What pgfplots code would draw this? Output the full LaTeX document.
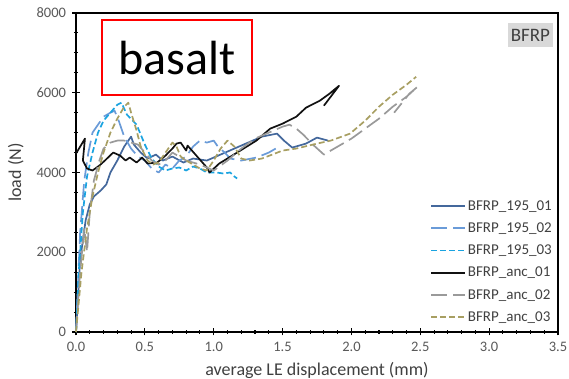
\documentclass[border=0pt]{standalone}
\usepackage{pgfplots}
\pgfplotsset{compat=1.18}
\usepackage{fontspec}
\setmainfont{Carlito}
\definecolor{cA}{HTML}{44689C}
\definecolor{cB}{HTML}{6A9BD8}
\definecolor{cC}{HTML}{1AA3E0}
\definecolor{cD}{HTML}{111111}
\definecolor{cE}{HTML}{9A9A9A}
\definecolor{cF}{HTML}{A89F62}
\definecolor{tickgray}{HTML}{595959}
\definecolor{labgray}{HTML}{404040}
\begin{document}
\begin{tikzpicture}
\begin{axis}[
  scale only axis, width=482pt, height=319pt,
  xmin=0, xmax=3.5, ymin=0, ymax=8000,
  xtick={0,0.5,...,3.5}, ytick={0,2000,...,8000},
  minor x tick num=4, minor y tick num=3,
  tick pos=left, tick align=center,
  major tick length=7pt, minor tick length=4pt,
  axis line style={line width=1.3pt},
  every tick/.style={black, line width=1.1pt},
  tick label style={font=\fontsize{14.5}{16}\selectfont, text=tickgray},
  /pgf/number format/assume math mode=true,
  xticklabel style={/pgf/number format/fixed, /pgf/number format/fixed zerofill, /pgf/number format/precision=1, yshift=-3pt},
  yticklabel style={/pgf/number format/1000 sep={}, xshift=-3pt},
  xlabel={average LE displacement (mm)},
  ylabel={load (N)},
  label style={font=\fontsize{18}{20}\selectfont, text=labgray},
  xlabel style={yshift=-4pt},
  ylabel style={yshift=6pt},
  legend style={at={(1,0)}, anchor=south east, xshift=-3pt, yshift=6pt, draw=none, fill=none,
    font=\fontsize{15}{17}\selectfont, text=labgray, row sep=7pt, inner sep=1pt},
  legend cell align=left,
  legend image code/.code={\draw[line width=1.7pt,#1] (0pt,0pt) -- (34pt,0pt);},
  every axis plot/.append style={line width=1.7pt, line join=round},
  clip=false
]
\addplot[cA] coordinates {(0,0)(0.03,1800)(0.07,2800)(0.1,3200)(0.13,3400)(0.18,3550)(0.22,3700)(0.25,4000)(0.3,4300)(0.35,4650)(0.4,4900)(0.42,4700)(0.47,4500)(0.52,4350)(0.58,4450)(0.63,4300)(0.7,4400)(0.78,4250)(0.85,4350)(0.95,4300)(1.05,4450)(1.15,4600)(1.25,4750)(1.35,4900)(1.46,4975)(1.51,4800)(1.57,4625)(1.67,4725)(1.75,4875)(1.83,4800)};
\addlegendentry{BFRP\_195\_01}
\addplot[cB, dash pattern=on 16pt off 6pt] coordinates {(0,0)(0.03,2500)(0.06,3800)(0.09,4500)(0.12,5000)(0.16,5200)(0.2,5400)(0.25,5500)(0.28,5550)(0.31,5300)(0.35,4900)(0.4,4600)(0.45,4400)(0.5,4300)(0.55,4100)(0.6,4000)(0.65,4200)(0.7,4100)(0.75,4300)(0.8,4400)(0.85,4650)(0.9,4800)(0.95,4750)(1.0,4800)(1.03,4650)(1.08,4500)(1.12,4350)(1.2,4300)(1.31,4375)(1.4,4500)(1.45,4600)};
\addlegendentry{BFRP\_195\_02}
\addplot[cC, dash pattern=on 6pt off 3pt] coordinates {(0,0)(0.02,1500)(0.05,3000)(0.08,3900)(0.12,4500)(0.16,5000)(0.2,5300)(0.25,5500)(0.3,5700)(0.33,5750)(0.37,5450)(0.44,5200)(0.5,4700)(0.55,4350)(0.6,4150)(0.65,4050)(0.7,4100)(0.75,4125)(0.8,4050)(0.85,4150)(0.9,4100)(0.95,4000)(1.02,4000)(1.07,3975)(1.12,4000)(1.15,3900)(1.17,3850)};
\addlegendentry{BFRP\_195\_03}
\addplot[cD] coordinates {(0,4475)(0.065,4850)(0.05,4300)(0.08,4100)(0.12,4050)(0.17,4175)(0.21,4300)(0.27,4500)(0.32,4425)(0.36,4300)(0.39,4375)(0.44,4250)(0.48,4375)(0.52,4225)(0.59,4250)(0.65,4425)(0.70,4600)(0.73,4725)(0.76,4750)(0.80,4550)(0.81,4675)(0.88,4400)(0.95,4125)(0.97,4000)(1.04,4225)(1.17,4500)(1.31,4800)(1.41,5100)(1.50,5225)(1.60,5400)(1.67,5625)(1.77,5800)(1.84,5975)(1.91,6175)(1.80,5675)};
\addlegendentry{BFRP\_anc\_01}
\addplot[cE, dash pattern=on 16pt off 6pt] coordinates {(0,0)(0.03,1500)(0.06,2600)(0.08,2000)(0.1,3000)(0.13,3800)(0.17,4300)(0.2,4600)(0.25,4750)(0.3,4800)(0.35,4800)(0.4,4750)(0.45,4700)(0.5,4500)(0.55,4300)(0.6,4200)(0.65,4300)(0.7,4500)(0.75,4400)(0.8,4300)(0.85,4250)(0.9,4200)(1.0,4050)(1.1,4300)(1.2,4600)(1.3,4850)(1.4,5000)(1.5,5150)(1.55,5200)(1.6,5100)(1.65,4950)(1.72,4700)(1.8,4450)(1.9,4650)(2.0,4850)(2.1,5100)(2.2,5350)(2.3,5650)(2.4,5900)(2.48,6150)(2.42,5975)(2.31,5500)};
\addlegendentry{BFRP\_anc\_02}
\addplot[cF, dash pattern=on 6pt off 3pt] coordinates {(0,0)(0.04,1500)(0.08,2600)(0.12,3400)(0.16,4000)(0.2,4500)(0.25,5000)(0.3,5350)(0.35,5650)(0.38,5750)(0.4,5500)(0.44,5050)(0.47,4650)(0.52,4300)(0.56,4200)(0.6,4250)(0.65,4500)(0.7,4750)(0.73,4650)(0.76,4400)(0.8,4300)(0.85,4200)(0.9,4100)(0.95,4050)(1.0,4300)(1.05,4600)(1.1,4800)(1.15,4650)(1.2,4350)(1.26,4300)(1.35,4350)(1.5,4550)(1.6,4600)(1.75,4725)(1.85,4800)(1.99,4975)(2.1,5300)(2.2,5650)(2.3,5950)(2.4,6200)(2.47,6400)};
\addlegendentry{BFRP\_anc\_03}
\node[draw=red, line width=2pt, minimum width=150pt, minimum height=75pt, font=\fontsize{48}{50}\selectfont] at (axis cs:0.732,6875) {basalt};
\node[fill=black!15, inner xsep=3pt, inner ysep=6pt, text=labgray, font=\fontsize{19}{21}\selectfont] at (axis cs:3.30,7450) {BFRP};
\coordinate (A) at (rel axis cs:0,0);
\coordinate (B) at (rel axis cs:1,1);
\end{axis}
\pgfresetboundingbox
\path[use as bounding box] ([shift={(-76pt,-47pt)}]A) rectangle ([shift={(11pt,13pt)}]B);
\end{tikzpicture}
\end{document}
